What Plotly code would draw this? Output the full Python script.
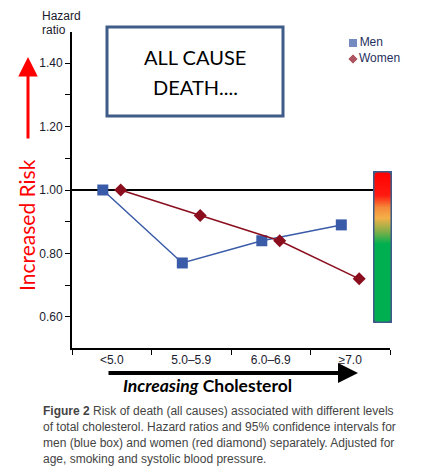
import numpy as np
import plotly.graph_objects as go

# data
categories = ["<5.0", "5.0–5.9", "6.0–6.9", "≥7.0"]
men_hr = [1.00, 0.77, 0.84, 0.89]
women_hr = [1.00, 0.92, 0.84, 0.72]
ytick_vals = [0.60, 0.80, 1.00, 1.20, 1.40]
series_names = ["Men", "Women"]

caption_lines = [
    "<b>Figure 2</b> Risk of death (all causes) associated with different levels",
    "of total cholesterol. Hazard ratios and 95% confidence intervals for",
    "men (blue box) and women (red diamond) separately. Adjusted for",
    "age, smoking and systolic blood pressure.",
]

# traffic light bar colours (bottom -> top)
risk_colorscale = [
    [0.00, "#00b050"], [0.52, "#00b050"], [0.60, "#7fae48"],
    [0.69, "#f4b048"], [0.76, "#f58a3a"], [0.84, "#ff1a10"],
    [1.00, "#ff0000"],
]

MEN_BLUE = "#3a5ba8"
WOMEN_RED = "#8b0e1e"
FRAME = "#3e5c87"

# page body has an 8px margin, so the figure is a bit smaller than the window
W, H = 405, 464
L, R, T, B = 64, 18, 24, 124
pw, ph = W - L - R, H - T - B


# helpers: positions measured on the 421x472 screenshot -> paper coords
def px_x(x):
    return (x - 8 - L) / pw


def px_y(y):
    return (H - B - (y - 8)) / ph


fig = go.Figure()

fig.add_trace(go.Scatter(
    x=categories, y=men_hr, mode="lines+markers", name=series_names[0],
    line=dict(color=MEN_BLUE, width=1.5),
    marker=dict(symbol="square", size=11, color=MEN_BLUE),
))
fig.add_trace(go.Scatter(
    x=categories, y=women_hr, mode="lines+markers", name=series_names[1],
    line=dict(color=WOMEN_RED, width=1.5),
    marker=dict(symbol="diamond", size=10, color=WOMEN_RED),
))

# small key in the top right (markers + names), on its own axes
fig.add_trace(go.Scatter(
    x=[0, 0], y=[0.75, 0.25], mode="markers+text", text=series_names,
    textposition="middle right",
    textfont=dict(family="Liberation Sans", size=12, color="#1f3060"),
    marker=dict(symbol=["square", "diamond"], size=[9, 8], color=[MEN_BLUE, WOMEN_RED]),
    xaxis="x3", yaxis="y3", cliponaxis=False, hoverinfo="skip",
))

# rounded traffic light bar
bw, bh, rad = 19, 152, 4
rx, ry = rad / bw, rad / bh
t = np.linspace(0, np.pi / 2, 6)
bx, by = [], []
for cx, cy, a0 in [(1 - rx, 1 - ry, 0), (rx, 1 - ry, np.pi / 2),
                   (rx, ry, np.pi), (1 - rx, ry, 1.5 * np.pi)]:
    bx += list(cx + rx * np.cos(a0 + t))
    by += list(cy + ry * np.sin(a0 + t))
bx.append(bx[0])
by.append(by[0])
fig.add_trace(go.Scatter(
    x=bx, y=by, mode="lines", fill="toself",
    fillgradient=dict(type="vertical", colorscale=risk_colorscale),
    line=dict(color=FRAME, width=3),
    xaxis="x2", yaxis="y2", hoverinfo="skip",
))

# reference line at HR = 1
fig.add_shape(type="line", xref="paper", yref="y", x0=0, x1=0.95, y0=1, y1=1,
              line=dict(color="black", width=2), layer="below")

# title box
fig.add_shape(type="rect", xref="paper", yref="paper",
              x0=px_x(107), x1=px_x(283), y0=px_y(116), y1=px_y(27),
              line=dict(color=FRAME, width=3))
for txt, yy in [("ALL CAUSE", 57), ("DEATH....", 87)]:
    fig.add_annotation(xref="paper", yref="paper", x=px_x(195), y=px_y(yy),
                       xanchor="center", yanchor="middle",
                       text=txt, showarrow=False,
                       font=dict(family="Lato", size=20, color="black"))

# y-axis header
for txt, yy in [("Hazard", 16), ("ratio", 30)]:
    fig.add_annotation(xref="paper", yref="paper", x=px_x(40), y=px_y(yy),
                       xanchor="left", yanchor="middle",
                       text=txt, showarrow=False,
                       font=dict(family="Liberation Sans", size=12, color="#1a1a2e"))

# increased risk arrow + label
fig.add_annotation(xref="paper", yref="paper", x=px_x(28), y=px_y(57),
                   ax=0, ay=83, text="", showarrow=True,
                   arrowhead=2, arrowsize=1.3, arrowwidth=3, arrowcolor="#ff0000")
fig.add_annotation(xref="paper", yref="paper", x=px_x(27), y=px_y(225),
                   xanchor="center", yanchor="middle",
                   text="Increased Risk", textangle=-90, showarrow=False,
                   font=dict(family="Lato", size=21, color="#ff0000"))

# increasing cholesterol arrow + label
fig.add_annotation(xref="paper", yref="paper", x=px_x(358), y=px_y(373),
                   ax=-251, ay=0, text="", showarrow=True,
                   arrowhead=2, arrowsize=1, arrowwidth=4, arrowcolor="black")
fig.add_annotation(xref="paper", yref="paper", x=px_x(207), y=px_y(385),
                   xanchor="center", yanchor="middle",
                   text="<i>Increasing</i> Cholesterol", showarrow=False,
                   font=dict(family="Lato", size=17.5, color="black", weight="bold"))

# caption
for i, line in enumerate(caption_lines):
    fig.add_annotation(xref="paper", yref="paper", x=px_x(41), y=px_y(411 + 16 * i),
                       xanchor="left", yanchor="middle", align="left",
                       text=line, showarrow=False,
                       font=dict(family="Liberation Sans", size=12, color="#444444"))

fig.update_layout(
    width=W, height=H,
    margin=dict(l=L, r=R, t=T, b=B),
    paper_bgcolor="white", plot_bgcolor="white",
    showlegend=False,
    scattermode="group", scattergap=0.55,
    font=dict(family="Liberation Sans", size=12, color="#1a1a2e"),
    xaxis=dict(domain=[0, px_x(390)], type="category",
               showline=True, linecolor="black", linewidth=2,
               ticks="outside", tickson="boundaries", ticklen=5, tickcolor="black",
               showgrid=False, zeroline=False,
               tickfont=dict(size=12, color="#1a1a2e")),
    yaxis=dict(range=[0.502, 1.498], tickvals=ytick_vals, tickformat=".2f",
               showline=True, linecolor="black", linewidth=2,
               ticks="outside", ticklen=5, tickcolor="black",
               minor=dict(dtick=0.1, tick0=0.5, ticks="outside", ticklen=5,
                          tickcolor="black", showgrid=False),
               showgrid=False, zeroline=False,
               tickfont=dict(size=12, color="#1a1a2e")),
    xaxis2=dict(domain=[px_x(373), px_x(392)], range=[0, 1], anchor="y2",
                visible=False, fixedrange=True),
    yaxis2=dict(domain=[px_y(323), px_y(171)], range=[0, 1], anchor="x2",
                visible=False, fixedrange=True),
    xaxis3=dict(domain=[px_x(353), 1], range=[0, 1], anchor="y3",
                visible=False, fixedrange=True),
    yaxis3=dict(domain=[px_y(67), px_y(35)], range=[0, 1], anchor="x3",
                visible=False, fixedrange=True),
)

fig.write_html("out.html")
